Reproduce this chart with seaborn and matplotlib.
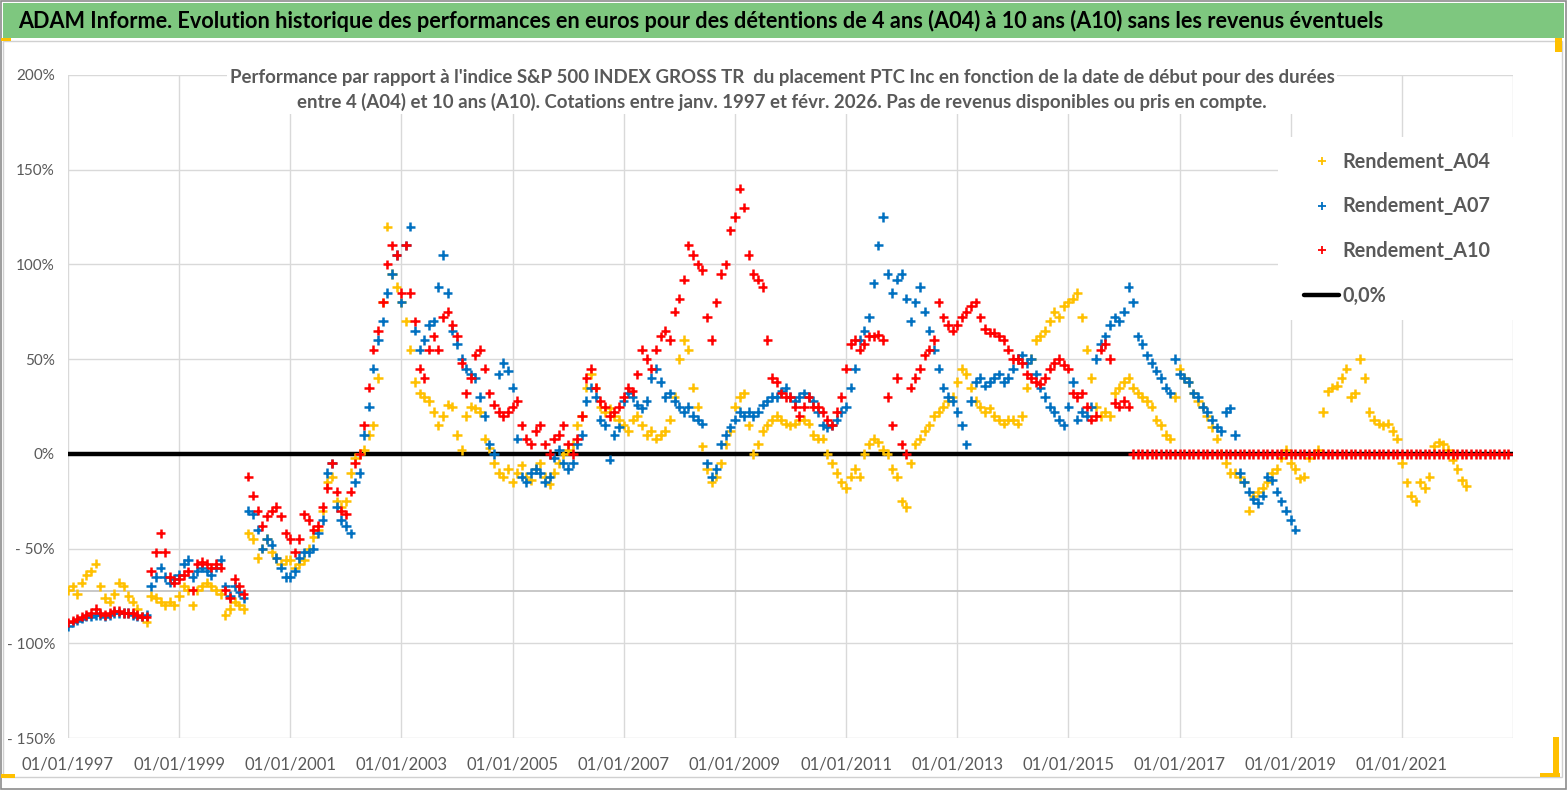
import matplotlib
matplotlib.use("Agg")
import matplotlib.pyplot as plt
import matplotlib.dates as mdates
from matplotlib.lines import Line2D
from matplotlib.patches import Rectangle
from matplotlib.ticker import FuncFormatter
import numpy as np
import pandas as pd
import seaborn as sns

# monthly readings (first day of each month), in %
a04 = [
    -72, -70, -74, -68, -64, -62, -58, -70, -76, -78, -74, -68,  # 1997
    -70, -75, -78, -82, -86, -89, -75, -76, -78, -80, -78, -80,  # 1998
    -75, -70, -72, -80, -72, -70, -68, -70, -72, -74, -85, -82,  # 1999
    -78, -80, -82, -42, -45, -55, -50, -45, -52, -55, -58, -56,  # 2000
    -56, -60, -58, -56, -50, -44, -40, -30, -15, -12, -25, -28,  # 2001
    -25, -10, -2, 0, 2, 10, 15, 40, 80, 120, 95, 88,  # 2002
    80, 70, 55, 38, 32, 30, 28, 22, 15, 20, 26, 25,  # 2003
    10, 2, 20, 25, 24, 22, 8, 3, -5, -10, -12, -8,  # 2004
    -15, -10, -6, -12, -14, -8, -5, -12, -16, -10, -5, 0,  # 2005
    2, 5, 15, 20, 35, 42, 35, 25, 22, 24, 20, 18,  # 2006
    15, 12, 18, 20, 15, 10, 12, 8, 10, 12, 18, 30,  # 2007
    50, 60, 55, 35, 25, 4, -8, -15, -12, -5, 5, 12,  # 2008
    25, 30, 32, 15, 0, 5, 12, 15, 18, 20, 18, 16,  # 2009
    15, 16, 18, 18, 16, 10, 8, 8, 0, -5, -10, -15,  # 2010
    -18, -12, -8, -12, 0, 5, 8, 6, 2, 0, -8, -12,  # 2011
    -25, -28, -5, 5, 8, 12, 15, 20, 22, 25, 28, 30,  # 2012
    38, 45, 42, 35, 28, 25, 22, 24, 20, 18, 16, 18,  # 2013
    18, 16, 20, 35, 50, 60, 62, 65, 70, 75, 72, 78,  # 2014
    80, 82, 85, 72, 55, 40, 25, 20, 22, 20, 32, 35,  # 2015
    38, 40, 35, 32, 30, 28, 25, 18, 15, 10, 8, 30,  # 2016
    45, 40, 38, 32, 28, 25, 20, 14, 8, 0, -5, -10,  # 2017
    -10, -12, -15, -30, -22, -20, -18, -15, -10, -8, -2, 2,  # 2018
    -5, -8, -13, -12, -2, 0, 2, 22, 33, 35, 36, 40,  # 2019
    45, 30, 32, 50, 40, 22, 18, 16, 15, 16, 12, 8,  # 2020
    -5, -15, -22, -25, -15, -18, -12, 4, 6, 5, 2, -3,  # 2021
    -8, -14, -17,  # 2022
]

a07 = [
    -91, -89, -88, -87, -86, -86, -85, -85, -86, -85, -84, -84,  # 1997
    -84, -84, -85, -86, -86, -85, -70, -65, -60, -65, -68, -66,  # 1998
    -64, -58, -56, -65, -62, -60, -62, -64, -60, -56, -70, -75,  # 1999
    -70, -73, -76, -30, -32, -40, -50, -45, -48, -55, -60, -65,  # 2000
    -65, -62, -55, -52, -52, -50, -42, -35, -10, -5, -28, -35,  # 2001
    -38, -42, -15, -10, 10, 25, 45, 60, 70, 85, 95, 105,  # 2002
    80, 110, 120, 65, 55, 60, 68, 70, 88, 105, 85, 65,  # 2003
    58, 50, 45, 42, 40, 30, 20, 5, 0, 42, 48, 44,  # 2004
    35, 8, -12, -15, -10, -8, -10, -15, -12, -2, 2, -5,  # 2005
    -8, -5, 5, 10, 28, 35, 30, 18, 15, -3, 10, 14,  # 2006
    28, 32, 30, 26, 24, 28, 40, 45, 38, 30, 32, 28,  # 2007
    25, 22, 25, 20, 18, 16, -5, -12, -8, 5, 10, 14,  # 2008
    18, 22, 20, 22, 20, 22, 26, 28, 30, 30, 33, 35,  # 2009
    30, 28, 30, 32, 30, 28, 22, 15, 14, 15, 18, 22,  # 2010
    25, 35, 45, 60, 65, 72, 90, 110, 125, 95, 85, 92,  # 2011
    95, 82, 70, 80, 88, 75, 65, 55, 45, 35, 30, 28,  # 2012
    22, 15, 5, 28, 38, 40, 36, 38, 40, 42, 38, 40,  # 2013
    45, 50, 52, 48, 50, 42, 35, 30, 25, 22, 18, 15,  # 2014
    25, 38, 18, 22, 20, 25, 50, 58, 62, 68, 72, 70,  # 2015
    75, 88, 80, 62, 58, 52, 48, 44, 40, 35, 32, 50,  # 2016
    42, 40, 38, 32, 30, 25, 22, 18, 14, 12, 22, 24,  # 2017
    10, -10, -15, -20, -24, -26, -22, -12, -14, -20, -25, -30,  # 2018
    -35, -40,  # 2019
]

a10 = [
    -89, -88, -87, -86, -85, -84, -82, -84, -85, -84, -83, -83,  # 1997
    -84, -84, -84, -85, -86, -86, -62, -52, -42, -52, -65, -68,  # 1998
    -66, -64, -62, -72, -58, -57, -58, -60, -58, -60, -72, -76,  # 1999
    -66, -70, -74, -12, -22, -30, -38, -33, -30, -28, -33, -42,  # 2000
    -45, -52, -45, -32, -35, -40, -38, -28, -18, -5, -20, -30,  # 2001
    -32, -20, -5, 0, 15, 35, 55, 65, 80, 100, 110, 105,  # 2002
    85, 110, 85, 70, 45, 40, 55, 62, 55, 72, 75, 68,  # 2003
    62, 48, 32, 40, 52, 55, 45, 32, 26, 22, 20, 22,  # 2004
    25, 28, 15, 8, 5, 12, 15, 5, 0, 8, 10, 15,  # 2005
    5, 0, 8, 20, 40, 45, 35, 28, 25, 20, 22, 25,  # 2006
    30, 35, 33, 42, 55, 50, 45, 55, 62, 65, 60, 75,  # 2007
    82, 92, 110, 105, 100, 97, 72, 60, 80, 95, 100, 118,  # 2008
    125, 140, 130, 105, 95, 92, 88, 60, 40, 38, 32, 30,  # 2009
    30, 25, 20, 25, 30, 25, 25, 22, 18, 15, 22, 30,  # 2010
    45, 58, 60, 55, 58, 62, 62, 63, 60, 30, 15, 40,  # 2011
    5, 0, 35, 40, 45, 52, 55, 60, 80, 72, 68, 65,  # 2012
    68, 72, 75, 78, 80, 72, 66, 64, 64, 62, 60, 55,  # 2013
    50, 50, 48, 42, 40, 38, 37, 40, 45, 48, 50, 47,  # 2014
    45, 32, 30, 32, 25, 18, 20, 55, 58, 50, 27, 25,  # 2015
    28, 25, 0, 0, 0, 0, 0, 0, 0, 0, 0, 0,  # 2016
    0, 0, 0, 0, 0, 0, 0, 0, 0, 0, 0, 0,  # 2017
    0, 0, 0, 0, 0, 0, 0, 0, 0, 0, 0, 0,  # 2018
    0, 0, 0, 0, 0, 0, 0, 0, 0, 0, 0, 0,  # 2019
    0, 0, 0, 0, 0, 0, 0, 0, 0, 0, 0, 0,  # 2020
    0, 0, 0, 0, 0, 0, 0, 0, 0, 0, 0, 0,  # 2021
    0, 0, 0, 0, 0, 0, 0, 0, 0, 0, 0, 0,  # 2022
]

series_names = ["Rendement_A04", "Rendement_A07", "Rendement_A10"]
series_values = [a04, a07, a10]
series_colors = ["#FFC000", "#0070C0", "#FF0000"]
tick_years = list(range(1997, 2022, 2))

title = ("ADAM Informe. Evolution historique des performances en euros pour des "
         "détentions de 4 ans (A04) à 10 ans (A10) sans les revenus éventuels")
subtitle = ("Performance par rapport à l'indice S&P 500 INDEX GROSS TR  du placement PTC Inc "
            "en fonction de la date de début pour des durées\n"
            "entre 4 (A04) et 10 ans (A10). Cotations entre janv. 1997 et févr. 2026. "
            "Pas de revenus disponibles ou pris en compte.")

frames = []
for name, vals in zip(series_names, series_values):
    dates = pd.date_range("1997-01-01", periods=len(vals), freq="MS")
    frames.append(pd.DataFrame({"date": dates, "perf": vals, "serie": name}))
df = pd.concat(frames, ignore_index=True)

sns.set_theme(style="white")
font = ["Lato", "DejaVu Sans"]
plt.rcParams["font.family"] = font

W, H = 1567, 790
fig = plt.figure(figsize=(W / 100, H / 100), dpi=100)
fig.patch.set_facecolor("white")


def fx(px):
    return px / W


def fy(py):
    return 1 - py / H


ax = fig.add_axes([fx(68), fy(738), fx(1513) - fx(68), fy(75) - fy(738)])

ax.axhline(0, color="black", lw=3.2, zorder=2)
sns.scatterplot(data=df, x="date", y="perf", hue="serie", palette=series_colors,
                hue_order=series_names, marker="+", s=46, linewidth=1.8,
                legend=False, ax=ax, zorder=3)

ax.set_xlim(pd.Timestamp("1997-01-01"), pd.Timestamp("2023-01-01"))
ax.set_ylim(-150, 200)
ax.set_xticks([pd.Timestamp(f"{y}-01-01") for y in tick_years])
ax.xaxis.set_major_formatter(mdates.DateFormatter("%d/%m/%Y"))
ax.set_yticks(np.arange(-150, 201, 50))
ax.yaxis.set_major_formatter(FuncFormatter(
    lambda v, p: f"{v:.0f}%" if v >= 0 else f"- {abs(v):.0f}%"))
ax.grid(True, color="#D9D9D9", lw=1.0)
ax.axvline(pd.Timestamp("2023-01-01"), color="#D9D9D9", lw=1.0, zorder=0)
ax.axhline(-72.3, color="#C4C4C4", lw=1.3, zorder=1)
for sp in ax.spines.values():
    sp.set_visible(False)
ax.tick_params(axis="both", length=0, colors="#595959")
ax.tick_params(axis="x", pad=13, labelsize=12)
ax.tick_params(axis="y", pad=9.4, labelsize=11)
ax.set_xlabel("")
ax.set_ylabel("")

# chart frame and banner
fig.patches.append(Rectangle((fx(1), fy(789)), fx(1565), fy(1) - fy(789), transform=fig.transFigure,
                             fill=False, edgecolor="#8C8C8C", lw=1.2, zorder=0))
fig.patches.append(Rectangle((fx(3), fy(777)), fx(1562) - fx(3), fy(41) - fy(777),
                             transform=fig.transFigure, fill=False, edgecolor="#D0D0D0", lw=1.0, zorder=0))
fig.patches.append(Rectangle((fx(3), fy(38)), fx(1564) - fx(3), fy(3) - fy(38),
                             transform=fig.transFigure, facecolor="#7EC77F", edgecolor="none", zorder=1))
for (x0, y0, w, h) in [(1, 38, 10, 3), (1, 774, 14, 4), (1555, 38, 7, 14), (1553, 737, 6, 40), (1540, 773, 20, 4)]:
    fig.patches.append(Rectangle((fx(x0), fy(y0 + h)), fx(w), h / H, transform=fig.transFigure,
                                 facecolor="#FFC000", edgecolor="none", zorder=1))
fig.text(fx(18), fy(21), title, ha="left", va="center", fontsize=15.6, color="black",
         fontweight="bold")

fig.text(fx(782), fy(90), subtitle, ha="center", va="center", fontsize=13.4, color="#595959",
         fontweight="bold", linespacing=1.5,
         bbox=dict(facecolor="white", edgecolor="none", pad=2))

# legend with white backdrop
fig.patches.append(Rectangle((fx(1278), fy(320)), fx(1513) - fx(1278), fy(137) - fy(320),
                             transform=fig.transFigure, facecolor="white", edgecolor="none", zorder=2))
handles = [Line2D([], [], marker="+", color=c, linestyle="none", markersize=6, mew=1.3)
           for c in series_colors]
handles.append(Line2D([], [], color="black", lw=3.2))
labels = series_names + ["0,0%"]
leg = fig.legend(handles, labels, loc="upper left", bbox_to_anchor=(fx(1286), fy(134)),
                 frameon=False, handlelength=1.8, handletextpad=0.15, labelspacing=1.25,
                 prop={"weight": "bold", "size": 14.2})
for t in leg.get_texts():
    t.set_color("#595959")

fig.savefig("out.png", dpi=100, facecolor="white")
